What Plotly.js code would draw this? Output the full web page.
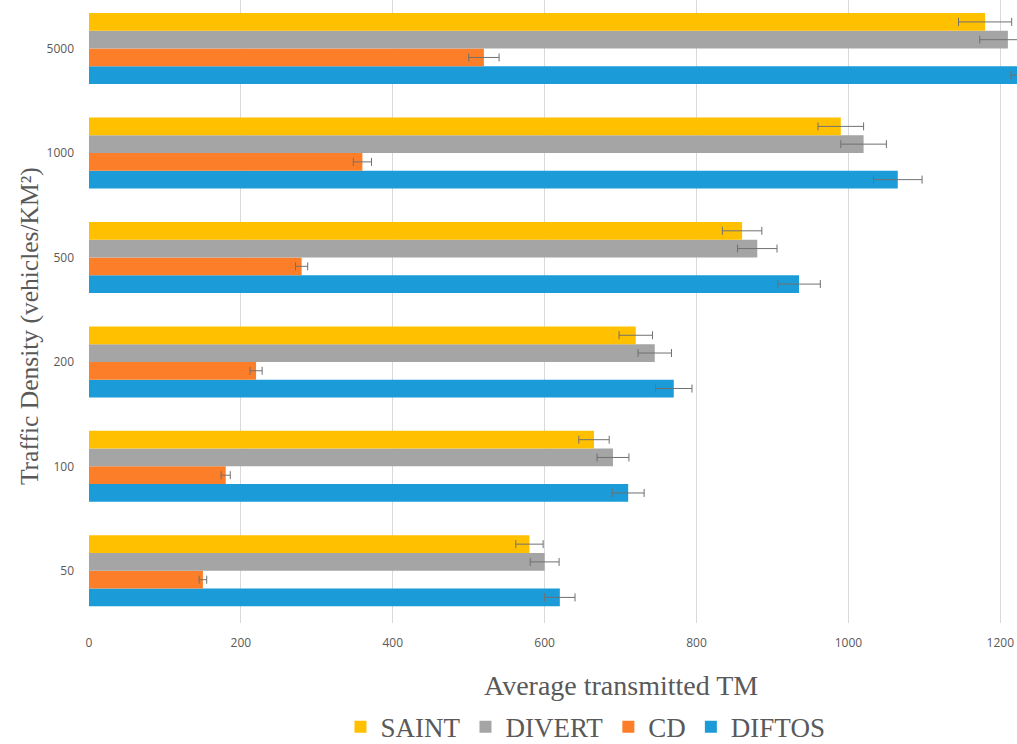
<!DOCTYPE html>
<html>
<head>
<meta charset="utf-8">
<script src="https://cdn.plot.ly/plotly-3.0.1.min.js"></script>
<style>
  html, body { margin: 0; padding: 0; background: #ffffff; }
  #chart { width: 1017px; height: 744px; }
</style>
</head>
<body>
<div id="chart"></div>
<script>
// Traffic densities (vehicles/km²), bottom to top on the category axis
const densities = ['50', '100', '200', '500', '1000', '5000'];

// Average transmitted TM per protocol
const saint  = [580, 665, 720, 860, 990, 1180];
const divert = [600, 690, 745, 880, 1020, 1210];
const cd     = [150, 180, 220, 280, 360, 520];
const diftos = [620, 710, 770, 935, 1065, 1250];

// Error bar half-widths
const saintErr  = [18, 20, 22, 26, 30, 35];
const divertErr = [19, 21, 22, 26, 30, 37];
const cdErr     = [5, 6, 8, 8, 12, 20];
const diftosErr = [20, 21, 24, 28, 32, 36];

const seriesNames = ['SAINT', 'DIVERT', 'CD', 'DIFTOS'];
const colors = ['#FFC000', '#A5A5A5', '#FD7E28', '#1B9BD7'];
const values = [saint, divert, cd, diftos];
const errors = [saintErr, divertErr, cdErr, diftosErr];

// Horizontal grouped bars: later traces sit higher in each group,
// so add them in reverse to put SAINT on top.
const traces = [];
for (let i = seriesNames.length - 1; i >= 0; i--) {
  traces.push({
    type: 'bar',
    orientation: 'h',
    name: seriesNames[i],
    y: densities,
    x: values[i],
    marker: { color: colors[i] },
    error_x: {
      type: 'data',
      array: errors[i],
      visible: true,
      color: '#707070',
      thickness: 1,
      width: 4
    },
    hoverinfo: 'x+name'
  });
}

const serif = 'Liberation Serif, serif';

const layout = {
  width: 1017,
  height: 744,
  margin: { l: 89, r: 0, t: 0, b: 121, autoexpand: false },
  paper_bgcolor: '#ffffff',
  plot_bgcolor: '#ffffff',
  barmode: 'group',
  bargap: 0.32,
  bargroupgap: 0,
  showlegend: true,
  legend: {
    orientation: 'h',
    traceorder: 'reversed',
    x: 0.535,
    xanchor: 'center',
    y: -0.128,
    yanchor: 'top',
    font: { family: serif, size: 27, color: '#595959' },
    itemwidth: 30
  },
  xaxis: {
    range: [0, 1222],
    tickvals: [0, 200, 400, 600, 800, 1000, 1200],
    showgrid: true,
    gridcolor: '#D9D9D9',
    gridwidth: 1,
    zeroline: false,
    showline: false,
    ticks: '',
    tickfont: { family: 'Open Sans, sans-serif', size: 12, color: '#595959' },
    ticklabelstandoff: 11
  },
  yaxis: {
    type: 'category',
    range: [-0.5, 5.465],
    showgrid: false,
    zeroline: false,
    showline: false,
    ticks: '',
    tickfont: { family: 'Open Sans, sans-serif', size: 12, color: '#595959' },
    ticklabelstandoff: 14
  },
  annotations: [
    {
      text: 'Average transmitted TM',
      xref: 'paper', yref: 'paper',
      x: 0.573, y: -0.1,
      xanchor: 'center', yanchor: 'middle',
      showarrow: false,
      font: { family: serif, size: 28, color: '#595959' }
    },
    {
      text: 'Traffic Density (vehicles/KM²)',
      xref: 'paper', yref: 'paper',
      x: -0.064, y: 0.476,
      xanchor: 'center', yanchor: 'middle',
      textangle: -90,
      showarrow: false,
      font: { family: serif, size: 25.5, color: '#595959' }
    }
  ]
};

Plotly.newPlot('chart', traces, layout, { displayModeBar: false, staticPlot: true });
</script>
</body>
</html>
